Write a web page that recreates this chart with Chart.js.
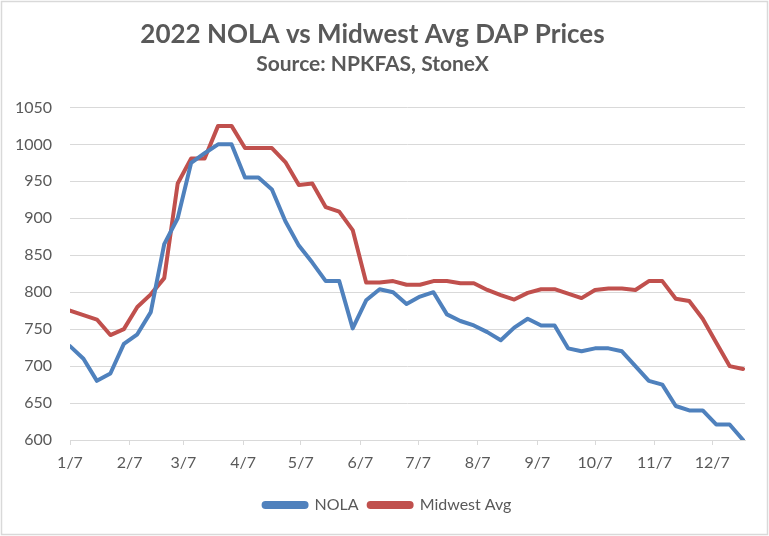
<!DOCTYPE html>
<html>
<head>
<meta charset="utf-8">
<script src="https://cdn.jsdelivr.net/npm/chart.js@4.4.0/dist/chart.umd.min.js"></script>
<style>
  html, body { margin: 0; padding: 0; background: #fff; }
  #wrap { width: 769px; height: 536px; }
</style>
</head>
<body>
<div id="wrap"><canvas id="myChart" width="769" height="536"></canvas></div>
<script>
// weekly dates (2022)
var weeks = ['1/7','1/14','1/21','1/28','2/4','2/11','2/18','2/25','3/4','3/11','3/18','3/25',
  '4/1','4/8','4/15','4/22','4/29','5/6','5/13','5/20','5/27','6/3','6/10','6/17','6/24',
  '7/1','7/8','7/15','7/22','7/29','8/5','8/12','8/19','8/26','9/2','9/9','9/16','9/23','9/30',
  '10/7','10/14','10/21','10/28','11/4','11/11','11/18','11/25','12/2','12/9','12/16','12/23']

var nola = [727,710,680,690,730,743,773,865,900,975,988,1000,1000,955,955,939,896,863,840,815,815,
  751,789,804,800,784,794,800,770,761,755,746,735,752,764,755,755,724,720,724,724,720,700,680,675,
  646,640,640,621,621,600]

var midwest = [775,769,763,742,750,780,797,819,947,981,981,1025,1025,995,995,995,976,945,947,915,909,
  884,813,813,815,810,810,815,815,812,812,803,796,790,799,804,804,798,792,803,805,805,803,815,815,
  791,788,764,732,700,696]

var monthTicks = ['1/7','2/7','3/7','4/7','5/7','6/7','7/7','8/7','9/7','10/7','11/7','12/7']
var yTicks = [600,650,700,750,800,850,900,950,1000,1050]

// day of year for a 'm/d' string
function dayOf(s){
  var p = s.split('/')
  return (Date.UTC(2022, +p[0]-1, +p[1]) - Date.UTC(2022,0,1)) / 864e5
}

function toPoints(arr){
  return arr.map(function(v, i){ return {x: dayOf(weeks[i]), y: v} })
}

var txt = '#595959'
var grid = '#d9d9d9'
var fam = 'Lato, "Open Sans", sans-serif'

var border = {
  id: 'border',
  afterLayout: function(chart){
    // legend sits a little right of centre in the original
    chart.legend.left += 15
    chart.legend.right += 15
  },
  beforeDraw: function(chart){
    var c = chart.ctx
    c.save()
    c.fillStyle = '#fff'
    c.fillRect(0, 0, chart.width, chart.height)
    c.strokeStyle = grid
    c.lineWidth = 1.5
    c.strokeRect(1.5, 1.5, chart.width - 3, chart.height - 3)
    c.restore()
  }
}

const ctx = document.getElementById('myChart')
new Chart(ctx, {
  type: 'line',
  data: {
    datasets: [{
      label: 'NOLA',
      data: toPoints(nola),
      borderColor: '#4f81bd',
      backgroundColor: '#4f81bd',
      borderWidth: 4,
      pointRadius: 0,
      borderJoinStyle: 'round',
      borderCapStyle: 'round'
    }, {
      label: 'Midwest Avg',
      data: toPoints(midwest),
      borderColor: '#c0504d',
      backgroundColor: '#c0504d',
      borderWidth: 4,
      pointRadius: 0,
      borderJoinStyle: 'round',
      borderCapStyle: 'round'
    }]
  },
  plugins: [border],
  options: {
    responsive: false,
    animation: false,
    layout: { padding: { left: 0, right: 24, top: 0, bottom: 13 } },
    plugins: {
      title: {
        display: true,
        text: '2022 NOLA vs Midwest Avg DAP Prices',
        color: txt,
        font: { family: fam, size: 26, weight: 'bold', lineHeight: 1.2 },
        padding: { top: 19, bottom: 0 }
      },
      subtitle: {
        display: true,
        text: 'Source: NPKFAS, StoneX',
        color: txt,
        font: { family: fam, size: 21, weight: 'bold', lineHeight: 1.2 },
        padding: { top: 1, bottom: 31 }
      },
      legend: {
        position: 'bottom',
        labels: {
          color: txt,
          font: { family: fam, size: 16 },
          boxWidth: 43,
          boxHeight: 4,
          useBorderRadius: true,
          borderRadius: 2,
          padding: 10
        }
      },
      tooltip: { enabled: false }
    },
    scales: {
      x: {
        type: 'linear',
        min: dayOf('1/7'),
        max: dayOf('12/24'),
        afterBuildTicks: function(axis){
          axis.ticks = monthTicks.map(function(s){ return {value: dayOf(s)} })
        },
        afterFit: function(axis){ axis.height = 47 },
        ticks: {
          color: txt,
          font: { family: fam, size: 16 },
          padding: 8,
          maxRotation: 0,
          autoSkip: false,
          callback: function(v){
            var i = monthTicks.map(dayOf).indexOf(v)
            return i >= 0 ? monthTicks[i] : ''
          }
        },
        grid: { drawOnChartArea: false, drawTicks: true, tickLength: 5, color: grid },
        border: { display: true, color: grid, width: 1 }
      },
      y: {
        min: 600,
        max: 1050,
        afterBuildTicks: function(axis){
          axis.ticks = yTicks.map(function(v){ return {value: v} })
        },
        afterFit: function(axis){ axis.width = 70 },
        ticks: {
          color: txt,
          font: { family: fam, size: 16 },
          padding: 18,
          callback: function(v){ return String(v) }
        },
        grid: { color: grid, lineWidth: 1, drawTicks: false },
        border: { display: false }
      }
    }
  }
})
</script>
</body>
</html>
